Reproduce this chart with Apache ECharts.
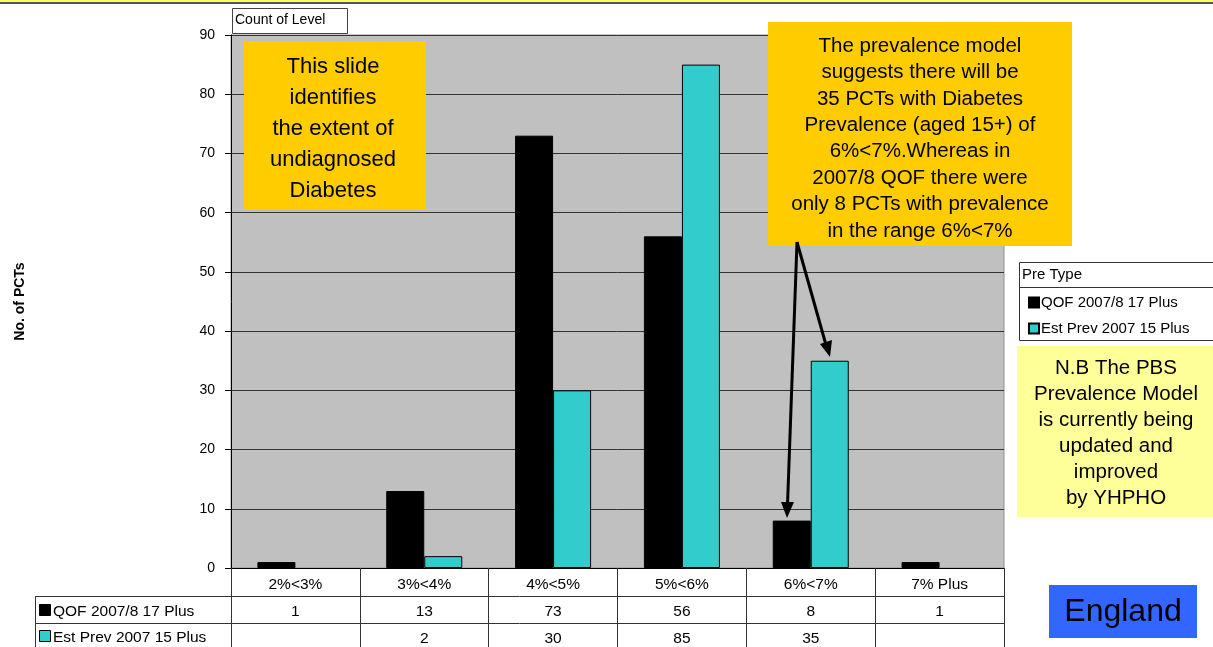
<!DOCTYPE html>
<html>
<head>
<meta charset="utf-8">
<script src="https://cdn.jsdelivr.net/npm/echarts@6/dist/echarts.min.js"></script>
<style>
  html, body { margin: 0; padding: 0; background: #fff; }
  #chart { width: 1213px; height: 647px; }
</style>
</head>
<body>
<div id="chart"></div>
<script>
// 数据
const categories = ['2%<3%', '3%<4%', '4%<5%', '5%<6%', '6%<7%', '7% Plus'];
const seriesNames = ['QOF 2007/8 17 Plus', 'Est Prev 2007 15 Plus'];
const qofValues = [1, 13, 73, 56, 8, 1];
const estValues = [null, 2, 30, 85, 35, null];

const FONT = '"Liberation Sans", Arial, sans-serif';
const TABLE_SIZE = 15.5;

const chart = echarts.init(document.getElementById('chart'));

// 表格里的数值行（用额外的类目轴画出来）
const tableAxis = (values, margin) => ({
  type: 'category',
  data: categories,
  position: 'bottom',
  axisLine: { show: false },
  axisTick: { show: false },
  axisLabel: {
    interval: 0,
    margin: margin,
    fontFamily: FONT,
    fontSize: TABLE_SIZE,
    color: '#000',
    formatter: (v, i) => (values[i] == null ? '' : String(values[i]))
  }
});

const boxText = (x, y, text, size, lh) => ({
  type: 'text',
  style: {
    x: x, y: y, text: text,
    font: size + 'px ' + FONT,
    fill: '#000',
    align: 'center',
    verticalAlign: 'top',
    lineHeight: lh
  },
  z: 20
});

const option = {
  animation: false,
  backgroundColor: '#fff',
  grid: {
    left: 231,
    right: 209,
    top: 35,
    bottom: 79,
    show: true,
    backgroundColor: '#C0C0C0',
    borderColor: '#909090',
    borderWidth: 1
  },
  xAxis: [
    {
      type: 'category',
      data: categories,
      axisLine: { lineStyle: { color: '#000', width: 1 } },
      axisTick: {
        show: true,
        alignWithLabel: false,
        length: 79,
        lineStyle: { color: '#333' }
      },
      axisLabel: {
        interval: 0,
        margin: 9,
        fontFamily: FONT,
        fontSize: TABLE_SIZE,
        color: '#000'
      }
    },
    tableAxis(qofValues, 36),
    tableAxis(estValues, 63)
  ],
  yAxis: {
    type: 'value',
    min: 0,
    max: 90,
    interval: 10,
    name: 'No. of PCTs',
    nameLocation: 'middle',
    nameRotate: 90,
    nameGap: 204,
    nameTextStyle: { fontFamily: FONT, fontSize: 14, fontWeight: 'bold', color: '#000' },
    axisLine: { show: true, lineStyle: { color: '#000' } },
    axisTick: { show: true, length: 6, lineStyle: { color: '#000' } },
    axisLabel: { margin: 16, fontFamily: FONT, fontSize: 14, color: '#000' },
    splitLine: { show: true, lineStyle: { color: '#333', width: 1 } }
  },
  legend: {
    orient: 'vertical',
    left: 1023,
    top: 290,
    itemWidth: 10,
    itemHeight: 10,
    itemGap: 11,
    icon: 'rect',
    textStyle: { fontFamily: FONT, fontSize: 15, color: '#000', padding: [0, 0, 0, -3] },
    data: seriesNames
  },
  series: [
    {
      name: seriesNames[0],
      type: 'bar',
      data: qofValues,
      barGap: '0%',
      barCategoryGap: '41%',
      itemStyle: { color: '#000', borderColor: '#000', borderWidth: 1 }
    },
    {
      name: seriesNames[1],
      type: 'bar',
      data: estValues,
      itemStyle: { color: '#33CCCC', borderColor: '#000', borderWidth: 1 }
    }
  ],
  graphic: [
    // 顶部细线
    { type: 'rect', shape: { x: 0, y: 0, width: 1213, height: 2 }, style: { fill: '#FFFF66' } },
    { type: 'rect', shape: { x: 0, y: 2, width: 1213, height: 2 }, style: { fill: '#555' } },
    // Count of Level
    { type: 'rect', shape: { x: 232.5, y: 8.5, width: 115, height: 25 }, style: { fill: '#fff', stroke: '#444', lineWidth: 1 } },
    { type: 'text', style: { x: 235, y: 13, text: 'Count of Level', font: '14px ' + FONT, fill: '#000' } },
    // 表格线
    { type: 'line', shape: { x1: 35, y1: 596.5, x2: 1004, y2: 596.5 }, style: { stroke: '#333', lineWidth: 1 } },
    { type: 'line', shape: { x1: 35, y1: 623.5, x2: 1004, y2: 623.5 }, style: { stroke: '#333', lineWidth: 1 } },
    { type: 'line', shape: { x1: 35.5, y1: 596, x2: 35.5, y2: 647 }, style: { stroke: '#333', lineWidth: 1 } },
    { type: 'line', shape: { x1: 231.5, y1: 568, x2: 231.5, y2: 647 }, style: { stroke: '#333', lineWidth: 1 } },
    { type: 'rect', shape: { x: 39.5, y: 604.5, width: 11, height: 11 }, style: { fill: '#000', stroke: '#000' } },
    { type: 'text', style: { x: 53, y: 603.5, text: seriesNames[0], font: TABLE_SIZE + 'px ' + FONT, fill: '#000' } },
    { type: 'rect', shape: { x: 39.5, y: 630.5, width: 11, height: 11 }, style: { fill: '#33CCCC', stroke: '#000' } },
    { type: 'text', style: { x: 53, y: 630, text: seriesNames[1], font: TABLE_SIZE + 'px ' + FONT, fill: '#000' } },
    // 图例框
    { type: 'rect', shape: { x: 1019.5, y: 262.5, width: 200, height: 78 }, style: { fill: 'none', stroke: '#333', lineWidth: 1 } },
    { type: 'line', shape: { x1: 1019, y1: 287.5, x2: 1213, y2: 287.5 }, style: { stroke: '#333', lineWidth: 1 } },
    { type: 'text', style: { x: 1022, y: 267, text: 'Pre Type', font: '15px ' + FONT, fill: '#000' } },
    // 注释框1
    { type: 'rect', shape: { x: 244, y: 41, width: 182, height: 168 }, style: { fill: '#FFCC00' }, z: 10 },
    boxText(333, 51, 'This slide\nidentifies\nthe extent of\nundiagnosed\nDiabetes', 22, 31),
    // 注释框2
    { type: 'rect', shape: { x: 768, y: 22, width: 304, height: 224 }, style: { fill: '#FFCC00' }, z: 10 },
    boxText(920, 33, 'The prevalence model\nsuggests there will be\n35 PCTs with Diabetes\nPrevalence (aged 15+) of\n6%<7%.Whereas in\n2007/8 QOF there were\nonly 8 PCTs with prevalence\nin the range 6%<7%', 20.5, 26.4),
    // 箭头
    { type: 'line', shape: { x1: 797, y1: 242, x2: 787.5, y2: 505 }, style: { stroke: '#000', lineWidth: 3 }, z: 15 },
    { type: 'polygon', shape: { points: [[787, 518], [794, 502], [781, 502]] }, style: { fill: '#000' }, z: 15 },
    { type: 'line', shape: { x1: 797, y1: 242, x2: 826, y2: 345 }, style: { stroke: '#000', lineWidth: 3 }, z: 15 },
    { type: 'polygon', shape: { points: [[830, 357], [832, 340], [820, 344]] }, style: { fill: '#000' }, z: 15 },
    // 注释框3
    { type: 'rect', shape: { x: 1017, y: 346, width: 196, height: 171 }, style: { fill: '#FFFF99' }, z: 10 },
    boxText(1116, 355, 'N.B The PBS\nPrevalence Model\nis currently being\nupdated and\nimproved\nby YHPHO', 20.5, 26),
    // England
    { type: 'rect', shape: { x: 1049, y: 585, width: 148, height: 53 }, style: { fill: '#3366FF' }, z: 10 },
    boxText(1123, 596, 'England', 32, 33)
  ]
};

chart.setOption(option);
</script>
</body>
</html>
